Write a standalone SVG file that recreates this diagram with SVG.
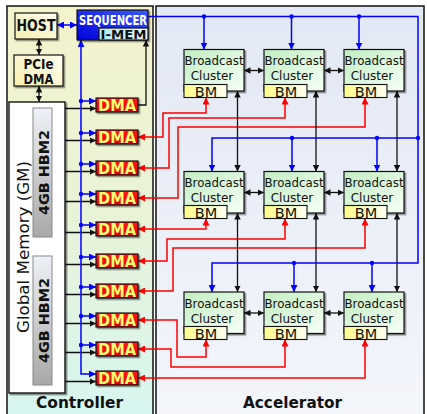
<svg xmlns="http://www.w3.org/2000/svg" width="427" height="414" viewBox="0 0 427 414">
<defs>
<linearGradient id="gCtl" x1="0" y1="0" x2="0" y2="1"><stop offset="0" stop-color="#f4f3cc"/><stop offset="0.5" stop-color="#e9f3d8"/><stop offset="1" stop-color="#d6f6f1"/></linearGradient>
<linearGradient id="gAcc" x1="0" y1="0" x2="0" y2="1"><stop offset="0" stop-color="#e2e8f5"/><stop offset="1" stop-color="#f4f6fb"/></linearGradient>
<linearGradient id="gYel" x1="1" y1="0" x2="0" y2="1"><stop offset="0" stop-color="#fffff2"/><stop offset="1" stop-color="#f6eeae"/></linearGradient>
<linearGradient id="gSeq" x1="0" y1="1" x2="1" y2="0"><stop offset="0" stop-color="#0000d8"/><stop offset="1" stop-color="#3a5cff"/></linearGradient>
<linearGradient id="gImem" x1="0" y1="0" x2="1" y2="0"><stop offset="0" stop-color="#b6eaf4"/><stop offset="1" stop-color="#eafcff"/></linearGradient>
<linearGradient id="gCl" x1="0" y1="0" x2="1" y2="1"><stop offset="0" stop-color="#c2eec2"/><stop offset="1" stop-color="#f7fff7"/></linearGradient>
<linearGradient id="gBM" x1="0" y1="0" x2="1" y2="0"><stop offset="0" stop-color="#ffff8c"/><stop offset="1" stop-color="#fffff4"/></linearGradient>
<linearGradient id="gHBM" x1="0" y1="0" x2="0" y2="1"><stop offset="0" stop-color="#eef1f7"/><stop offset="1" stop-color="#a8a8a8"/></linearGradient>
<linearGradient id="gDMA" x1="0" y1="0" x2="0" y2="1"><stop offset="0" stop-color="#ff1c1c"/><stop offset="1" stop-color="#e00000"/></linearGradient>
<filter id="sh" x="-20%" y="-20%" width="150%" height="150%"><feDropShadow dx="1.5" dy="1.5" stdDeviation="0.6" flood-color="#000" flood-opacity="0.45"/></filter>
<marker id="ak" viewBox="0 0 8 8" refX="8" refY="4" markerWidth="6.5" markerHeight="6.5" markerUnits="userSpaceOnUse" orient="auto-start-reverse"><path d="M0,0 L8,4 L0,8 z" fill="#111"/></marker>
<marker id="ab" viewBox="0 0 8 8" refX="8" refY="4" markerWidth="7" markerHeight="7" markerUnits="userSpaceOnUse" orient="auto-start-reverse"><path d="M0,0 L8,4 L0,8 z" fill="#0000ff"/></marker>
<marker id="ar" viewBox="0 0 8 8" refX="8" refY="4" markerWidth="7" markerHeight="7" markerUnits="userSpaceOnUse" orient="auto-start-reverse"><path d="M0,0 L8,4 L0,8 z" fill="#ff0000"/></marker>
</defs>
<style>
text{font-family:"DejaVu Sans","Liberation Sans",sans-serif}
.b{font-weight:bold}
.bx{stroke:#111;stroke-width:1.2;filter:url(#sh)}
.k{fill:none;stroke:#111;stroke-width:1.3;marker-start:url(#ak);marker-end:url(#ak)}
.k1{fill:none;stroke:#111;stroke-width:1.3;marker-end:url(#ak)}
.ble{fill:none;stroke:#0000ff;stroke-width:1.5;marker-end:url(#ab)}
.blb{fill:none;stroke:#0000ff;stroke-width:1.5;marker-start:url(#ab);marker-end:url(#ab)}
.r{fill:none;stroke:#ff0000;stroke-width:1.5;marker-start:url(#ar);marker-end:url(#ar)}
.dot{fill:#0000ff}
.cl{fill:url(#gCl)}
.bm{fill:url(#gBM);stroke:#111;stroke-width:1.1}
.ct{font-size:12px;text-anchor:middle;fill:#111}
.bmt{font-size:14.5px;text-anchor:middle;fill:#111}
.dma{fill:url(#gDMA)}
.dt{font-size:15px;font-weight:bold;fill:#ffff70;text-anchor:middle}
.hbm{fill:url(#gHBM);stroke:#888;stroke-width:1}
.ht{font-size:14.5px;font-weight:bold;fill:#111;text-anchor:middle}
.lab{font-size:16px;font-weight:bold;fill:#111;text-anchor:middle}
</style>

<g id="panels">
<rect x="7" y="6" width="146" height="420" fill="url(#gCtl)" stroke="#111" stroke-width="1.5"/>
<rect x="156" y="6" width="268" height="420" fill="url(#gAcc)" stroke="#111" stroke-width="1.5"/>
<text class="lab" x="79.5" y="408" textLength="87" lengthAdjust="spacingAndGlyphs">Controller</text>
<text class="lab" x="292.5" y="408" textLength="99" lengthAdjust="spacingAndGlyphs">Accelerator</text>
</g>

<g id="connectors">
<path class="k" d="M39,39 V55"/>
<path class="k" d="M39,86 V102"/>
<path class="k1" d="M138,105 H146 V40"/>
<path class="k1" d="M33,108.5 H96"/>
<path class="k" d="M52,140.5 H96"/>
<path class="k" d="M52,171.5 H96"/>
<path class="k" d="M52,201.5 H96"/>
<path class="k" d="M52,232.5 H96"/>
<path class="k" d="M52,264.5 H96"/>
<path class="k" d="M52,294.5 H96"/>
<path class="k" d="M52,323.5 H96"/>
<path class="k" d="M52,352.5 H96"/>
<path class="k" d="M52,381.5 H96"/>
<line x1="43" y1="237" x2="43" y2="256" stroke="#777" stroke-width="1.2"/>
<path class="blb" d="M57,25 H77"/>
<path class="blb" d="M81,40 V374 H96"/>
<path class="ble" d="M81,101 H96"/>
<path class="ble" d="M81,133 H96"/>
<path class="ble" d="M81,164 H96"/>
<path class="ble" d="M81,194 H96"/>
<path class="ble" d="M81,225 H96"/>
<path class="ble" d="M81,257 H96"/>
<path class="ble" d="M81,287 H96"/>
<path class="ble" d="M81,316 H96"/>
<path class="ble" d="M81,345 H96"/>
<circle class="dot" cx="81" cy="101" r="2.2"/>
<circle class="dot" cx="81" cy="133" r="2.2"/>
<circle class="dot" cx="81" cy="164" r="2.2"/>
<circle class="dot" cx="81" cy="194" r="2.2"/>
<circle class="dot" cx="81" cy="225" r="2.2"/>
<circle class="dot" cx="81" cy="257" r="2.2"/>
<circle class="dot" cx="81" cy="287" r="2.2"/>
<circle class="dot" cx="81" cy="316" r="2.2"/>
<circle class="dot" cx="81" cy="345" r="2.2"/>
<path class="r" d="M206,97.5 V113 H163 V137 H138"/>
<path class="r" d="M285,97.5 V118 H169 V168 H138"/>
<path class="r" d="M365,97.5 V127 H178 V198 H138"/>
<path class="r" d="M206,218.5 V229 H138"/>
<path class="r" d="M285,218.5 V239 H167 V261 H138"/>
<path class="r" d="M365,218.5 V248 H173 V291 H138"/>
<path class="r" d="M206,339.5 V357 H177 V320 H138"/>
<path class="r" d="M285,339.5 V367 H171 V349 H138"/>
<path class="r" d="M365,339.5 V378 H138"/>
<path class="k" d="M237.5,91 V171.5"/>
<path class="k" d="M316,91 V171.5"/>
<path class="k" d="M397,91 V171.5"/>
<path class="k" d="M237.5,213 V292"/>
<path class="k" d="M316,213 V292"/>
<path class="k" d="M397,213 V292"/>
<path class="k" d="M244,70.5 H264"/>
<path class="k" d="M324,70.5 H344"/>
<path class="k" d="M244,192.5 H264"/>
<path class="k" d="M324,192.5 H344"/>
<path class="k" d="M244,313 H264"/>
<path class="k" d="M324,313 H344"/>
<path class="ble" d="M148,16.5 H418 V263 H212 V292"/>
<path class="ble" d="M204,16.5 V49.5"/>
<path class="ble" d="M291.5,16.5 V49.5"/>
<path class="ble" d="M359,16.5 V49.5"/>
<path class="ble" d="M418,138 H212 V171.5"/>
<path class="ble" d="M292,138 V171.5"/>
<path class="ble" d="M377,138 V171.5"/>
<path class="ble" d="M294,263 V292"/>
<path class="ble" d="M372,263 V292"/>
<circle class="dot" cx="204" cy="16.5" r="2.2"/>
<circle class="dot" cx="291.5" cy="16.5" r="2.2"/>
<circle class="dot" cx="359" cy="16.5" r="2.2"/>
<circle class="dot" cx="292" cy="138" r="2.2"/>
<circle class="dot" cx="377" cy="138" r="2.2"/>
<circle class="dot" cx="418" cy="138" r="2.2"/>
<circle class="dot" cx="294" cy="263" r="2.2"/>
<circle class="dot" cx="372" cy="263" r="2.2"/>
</g>

<g id="host">
<rect class="bx" x="15" y="13" width="42" height="26" fill="url(#gYel)"/>
<text class="b" x="36" y="30.5" font-size="15.5" text-anchor="middle" textLength="39" lengthAdjust="spacingAndGlyphs" fill="#111">HOST</text>
</g>
<g id="pcie-dma">
<rect class="bx" x="14" y="55" width="49" height="31" fill="url(#gYel)"/>
<text class="b" x="38.5" y="68.5" font-size="14.5" text-anchor="middle" textLength="30" lengthAdjust="spacingAndGlyphs" fill="#111">PCIe</text>
<text class="b" x="38.5" y="84" font-size="14.5" text-anchor="middle" textLength="30" lengthAdjust="spacingAndGlyphs" fill="#111">DMA</text>
</g>
<g id="sequencer">
<rect class="bx" x="77" y="10" width="71" height="30" fill="url(#gSeq)"/>
<text class="b" x="79" y="25" font-size="14" textLength="68" lengthAdjust="spacingAndGlyphs" fill="#ffffff">SEQUENCER</text>
</g>
<g id="i-mem">
<rect x="99" y="28" width="49" height="12" fill="url(#gImem)" stroke="#111" stroke-width="1.2"/>
<text class="b" x="123.5" y="39" font-size="13" text-anchor="middle" textLength="46" lengthAdjust="spacingAndGlyphs" fill="#111">I-MEM</text>
</g>

<g id="global-memory">
<rect x="9" y="102" width="56" height="291" fill="#ffffff" stroke="#222" stroke-width="1.5" filter="url(#sh)"/>
<text transform="translate(28.5,247) rotate(-90)" font-size="16" text-anchor="middle" textLength="172" lengthAdjust="spacingAndGlyphs" fill="#111">Global Memory (GM)</text>
</g>
<g id="hbm2-a">
<rect class="hbm" x="33" y="108" width="19" height="129"/>
<text class="ht" transform="translate(48.5,172.5) rotate(-90)" textLength="85" lengthAdjust="spacingAndGlyphs">4GB HBM2</text>
</g>
<g id="hbm2-b">
<rect class="hbm" x="33" y="256" width="19" height="129"/>
<text class="ht" transform="translate(48.5,320.5) rotate(-90)" textLength="85" lengthAdjust="spacingAndGlyphs">4GB HBM2</text>
</g>

<g id="dma1"><rect class="bx dma" x="96" y="98" width="42" height="14"/><text class="dt" x="117" y="110.5" textLength="38" lengthAdjust="spacingAndGlyphs">DMA</text></g>
<g id="dma2"><rect class="bx dma" x="96" y="130" width="42" height="14"/><text class="dt" x="117" y="142.5" textLength="38" lengthAdjust="spacingAndGlyphs">DMA</text></g>
<g id="dma3"><rect class="bx dma" x="96" y="161" width="42" height="14"/><text class="dt" x="117" y="173.5" textLength="38" lengthAdjust="spacingAndGlyphs">DMA</text></g>
<g id="dma4"><rect class="bx dma" x="96" y="191" width="42" height="14"/><text class="dt" x="117" y="203.5" textLength="38" lengthAdjust="spacingAndGlyphs">DMA</text></g>
<g id="dma5"><rect class="bx dma" x="96" y="222" width="42" height="14"/><text class="dt" x="117" y="234.5" textLength="38" lengthAdjust="spacingAndGlyphs">DMA</text></g>
<g id="dma6"><rect class="bx dma" x="96" y="254" width="42" height="14"/><text class="dt" x="117" y="266.5" textLength="38" lengthAdjust="spacingAndGlyphs">DMA</text></g>
<g id="dma7"><rect class="bx dma" x="96" y="284" width="42" height="14"/><text class="dt" x="117" y="296.5" textLength="38" lengthAdjust="spacingAndGlyphs">DMA</text></g>
<g id="dma8"><rect class="bx dma" x="96" y="313" width="42" height="14"/><text class="dt" x="117" y="325.5" textLength="38" lengthAdjust="spacingAndGlyphs">DMA</text></g>
<g id="dma9"><rect class="bx dma" x="96" y="342" width="42" height="14"/><text class="dt" x="117" y="354.5" textLength="38" lengthAdjust="spacingAndGlyphs">DMA</text></g>
<g id="dma10"><rect class="bx dma" x="96" y="371" width="42" height="14"/><text class="dt" x="117" y="383.5" textLength="38" lengthAdjust="spacingAndGlyphs">DMA</text></g>

<g id="cluster-1-1"><rect class="bx cl" x="184" y="49.5" width="60" height="41.5"/><text class="ct" x="214" y="65" textLength="59" lengthAdjust="spacingAndGlyphs">Broadcast</text><text class="ct" x="212" y="80">Cluster</text><rect class="bm" x="184" y="84.5" width="43" height="13"/><text class="bmt" x="206" y="96.5">BM</text></g>
<g id="cluster-1-2"><rect class="bx cl" x="264" y="49.5" width="60" height="41.5"/><text class="ct" x="294" y="65" textLength="59" lengthAdjust="spacingAndGlyphs">Broadcast</text><text class="ct" x="292" y="80">Cluster</text><rect class="bm" x="264" y="84.5" width="43" height="13"/><text class="bmt" x="286" y="96.5">BM</text></g>
<g id="cluster-1-3"><rect class="bx cl" x="344" y="49.5" width="60" height="41.5"/><text class="ct" x="374" y="65" textLength="59" lengthAdjust="spacingAndGlyphs">Broadcast</text><text class="ct" x="372" y="80">Cluster</text><rect class="bm" x="344" y="84.5" width="43" height="13"/><text class="bmt" x="366" y="96.5">BM</text></g>
<g id="cluster-2-1"><rect class="bx cl" x="184" y="171.5" width="60" height="41.5"/><text class="ct" x="214" y="187" textLength="59" lengthAdjust="spacingAndGlyphs">Broadcast</text><text class="ct" x="212" y="202">Cluster</text><rect class="bm" x="184" y="205.5" width="43" height="13"/><text class="bmt" x="206" y="217.5">BM</text></g>
<g id="cluster-2-2"><rect class="bx cl" x="264" y="171.5" width="60" height="41.5"/><text class="ct" x="294" y="187" textLength="59" lengthAdjust="spacingAndGlyphs">Broadcast</text><text class="ct" x="292" y="202">Cluster</text><rect class="bm" x="264" y="205.5" width="43" height="13"/><text class="bmt" x="286" y="217.5">BM</text></g>
<g id="cluster-2-3"><rect class="bx cl" x="344" y="171.5" width="60" height="41.5"/><text class="ct" x="374" y="187" textLength="59" lengthAdjust="spacingAndGlyphs">Broadcast</text><text class="ct" x="372" y="202">Cluster</text><rect class="bm" x="344" y="205.5" width="43" height="13"/><text class="bmt" x="366" y="217.5">BM</text></g>
<g id="cluster-3-1"><rect class="bx cl" x="184" y="292" width="60" height="41.5"/><text class="ct" x="214" y="307.5" textLength="59" lengthAdjust="spacingAndGlyphs">Broadcast</text><text class="ct" x="212" y="322.5">Cluster</text><rect class="bm" x="184" y="326.5" width="43" height="13"/><text class="bmt" x="206" y="338.5">BM</text></g>
<g id="cluster-3-2"><rect class="bx cl" x="264" y="292" width="60" height="41.5"/><text class="ct" x="294" y="307.5" textLength="59" lengthAdjust="spacingAndGlyphs">Broadcast</text><text class="ct" x="292" y="322.5">Cluster</text><rect class="bm" x="264" y="326.5" width="43" height="13"/><text class="bmt" x="286" y="338.5">BM</text></g>
<g id="cluster-3-3"><rect class="bx cl" x="344" y="292" width="60" height="41.5"/><text class="ct" x="374" y="307.5" textLength="59" lengthAdjust="spacingAndGlyphs">Broadcast</text><text class="ct" x="372" y="322.5">Cluster</text><rect class="bm" x="344" y="326.5" width="43" height="13"/><text class="bmt" x="366" y="338.5">BM</text></g>
</svg>
